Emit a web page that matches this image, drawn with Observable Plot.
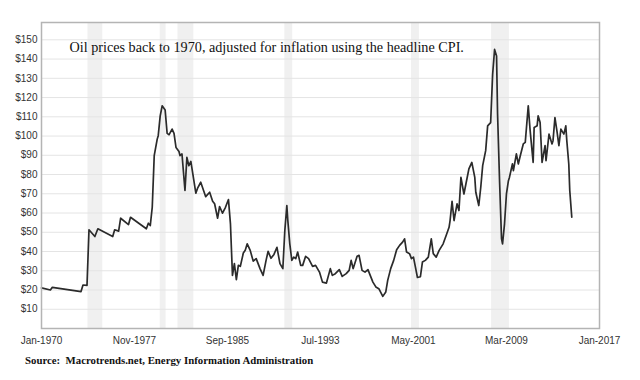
<!DOCTYPE html>
<html>
<head>
<meta charset="utf-8">
<script src="https://cdn.jsdelivr.net/npm/d3@7"></script>
<script src="https://cdn.jsdelivr.net/npm/@observablehq/plot@0.6"></script>
<style>
  html, body { margin: 0; padding: 0; background: #fff; }
  #chart { width: 640px; }
  svg { display: block; }
  .caption { font-family: "Liberation Serif", "Times New Roman", serif; font-weight: bold; font-size: 10.8px; line-height: 13px; color: #111; margin: 6px 0 0 25px; }
</style>
</head>
<body>
<div id="chart"></div>
<script>
const titleText = "Oil prices back to 1970, adjusted for inflation using the headline CPI.";
const sourceText = "Source:\u00a0 Macrotrends.net, Energy Information Administration";

const months = [
  "1970-01","1970-10","1970-12","1973-05","1973-07","1973-11","1974-01","1974-07","1974-10","1976-01",
  "1976-03","1976-07","1976-09","1977-05","1977-07","1978-11","1979-01","1979-03","1979-05","1979-07",
  "1979-10","1979-11","1980-01","1980-03","1980-06","1980-08","1980-10","1981-01","1981-03","1981-05",
  "1981-08","1981-09","1981-11","1982-02","1982-04","1982-06","1982-08","1983-01","1983-03","1983-06",
  "1983-11","1984-03","1984-06","1984-08","1984-11","1985-01","1985-04","1985-07","1985-10","1985-12",
  "1986-02","1986-04","1986-06","1986-08","1986-10","1987-01","1987-03","1987-05","1987-08","1987-11",
  "1988-02","1988-06","1988-09","1988-12","1989-02","1989-05","1989-08","1989-11","1990-02","1990-05",
  "1990-07","1990-09","1990-10","1990-12","1991-02","1991-04","1991-06","1991-08","1991-11","1992-01",
  "1992-04","1992-07","1992-11","1993-02","1993-06","1993-09","1994-01","1994-05","1994-07","1994-10",
  "1995-02","1995-05","1995-09","1995-12","1996-02","1996-04","1996-08","1996-10","1997-01","1997-04",
  "1997-07","1997-12","1998-03","1998-06","1998-10","1999-01","1999-03","1999-06","1999-09","1999-12",
  "2000-03","2000-06","2000-08","2000-10","2001-01","2001-03","2001-05","2001-07","2001-09","2001-12",
  "2002-02","2002-05","2002-08","2002-11","2003-01","2003-04","2003-07","2003-11","2004-02","2004-05",
  "2004-06","2004-08","2004-10","2005-01","2005-03","2005-05","2005-08","2005-10","2006-01","2006-04",
  "2006-07","2006-08","2006-11","2007-01","2007-03","2007-06","2007-08","2007-11","2008-01","2008-03",
  "2008-05","2008-06","2008-08","2008-10","2008-11","2009-01","2009-03","2009-05","2009-06","2009-09",
  "2009-10","2010-01","2010-03","2010-05","2010-08","2010-10","2011-01","2011-03","2011-06","2011-07",
  "2011-10","2011-11","2012-01","2012-03","2012-06","2012-07","2012-10","2013-01","2013-02","2013-04",
  "2013-06","2013-08","2013-10","2014-01","2014-03","2014-04","2014-06","2014-07","2014-09"
];
const prices = [
  21.1,20.0,21.4,19.2,22.6,22.4,51.3,47.8,51.8,47.8,
  51.3,50.6,57.3,54.0,57.8,51.8,54.7,53.5,63.0,89.8,
  98.4,100.2,110.5,115.7,113.5,101.4,100.7,103.6,101.4,94.1,
  92.0,89.8,90.7,71.7,88.9,84.6,86.8,70.3,73.1,76.0,
  68.5,70.8,66.1,64.8,57.3,63.4,59.9,63.0,67.0,54.4,
  27.6,33.7,25.4,32.8,32.3,39.2,40.6,44.0,40.6,35.0,
  36.3,31.0,27.6,35.4,40.1,36.5,38.5,42.2,33.7,31.1,
  50.9,63.9,56.1,44.0,35.4,37.1,36.3,39.7,32.8,32.8,
  37.5,36.3,32.3,32.8,29.3,24.1,23.6,31.1,27.6,28.5,
  30.6,27.1,28.5,30.2,35.4,31.1,37.5,38.0,30.2,29.3,
  30.6,24.1,21.6,20.7,16.7,19.0,25.0,31.1,35.4,40.9,
  43.2,44.9,46.6,39.7,38.9,36.3,37.1,31.9,26.5,26.9,
  34.5,35.4,37.1,46.6,38.9,37.1,40.6,44.0,48.3,52.6,
  56.1,66.1,56.1,64.8,61.3,78.5,69.9,75.1,82.9,86.3,
  78.5,70.8,63.9,73.4,84.6,92.4,105.3,107.0,132.0,145.0,
  141.6,111.4,76.8,46.6,44.0,54.4,69.9,76.8,78.5,85.5,
  82.0,90.7,85.5,89.8,95.9,96.7,115.7,102.7,86.3,104.5,
  105.3,110.5,107.0,86.3,95.0,87.2,101.0,95.9,97.6,109.6,
  102.7,95.0,103.6,101.0,105.3,97.6,85.5,71.7,57.8
];

const recessionStarts = ["1973-12","1980-01","1981-07","1990-07","2001-03","2007-12"];
const recessionEnds   = ["1975-03","1980-07","1982-11","1991-03","2001-11","2009-06"];

const xTickLabels = ["1970-01","1977-11","1985-09","1993-07","2001-05","2009-03","2017-01"];
const yTicks = [10,20,30,40,50,60,70,80,90,100,110,120,130,140,150];

const parse = d3.utcParse("%Y-%m");
const series = months.map((m, i) => ({date: parse(m), price: prices[i]}));
const recessions = recessionStarts.map((s, i) => ({start: parse(s), end: parse(recessionEnds[i])}));
const fmt = d3.utcFormat("%b-%Y");

const chart = Plot.plot({
  width: 640,
  height: 348,
  marginLeft: 41,
  marginRight: 41,
  marginTop: 22,
  marginBottom: 20,
  style: {fontFamily: "'Liberation Sans', Arial, sans-serif", fontSize: "10px", color: "#333", background: "#fff"},
  x: {type: "utc", domain: [parse("1970-01"), parse("2017-01")], label: null},
  y: {domain: [0, 159], label: null},
  marks: [
    Plot.rect(recessions, {x1: "start", x2: "end", fill: "#f0f0f0"}),
    Plot.gridY(yTicks, {stroke: "#e4e4e4", strokeOpacity: 1, strokeWidth: 1}),
    Plot.axisY(yTicks, {tickSize: 0, tickPadding: 4, tickFormat: d => "$" + d, fill: "#333", label: null}),
    Plot.axisX(xTickLabels.map(parse), {tickSize: 0, tickPadding: 8, tickFormat: fmt, fill: "#333", label: null}),
    Plot.line(series, {x: "date", y: "price", stroke: "#2b2b2b", strokeWidth: 1.7}),
    Plot.text([titleText], {frameAnchor: "top-left", dx: 28, dy: 19, fontFamily: "'Liberation Serif', 'Times New Roman', serif", fontSize: 14.2, fill: "#111"}),
    Plot.frame({stroke: "#b4b4b4", strokeWidth: 1.5})
  ]
});
document.getElementById("chart").appendChild(chart);
const cap = document.createElement("div");
cap.className = "caption";
cap.textContent = sourceText;
document.getElementById("chart").appendChild(cap);
</script>
</body>
</html>
